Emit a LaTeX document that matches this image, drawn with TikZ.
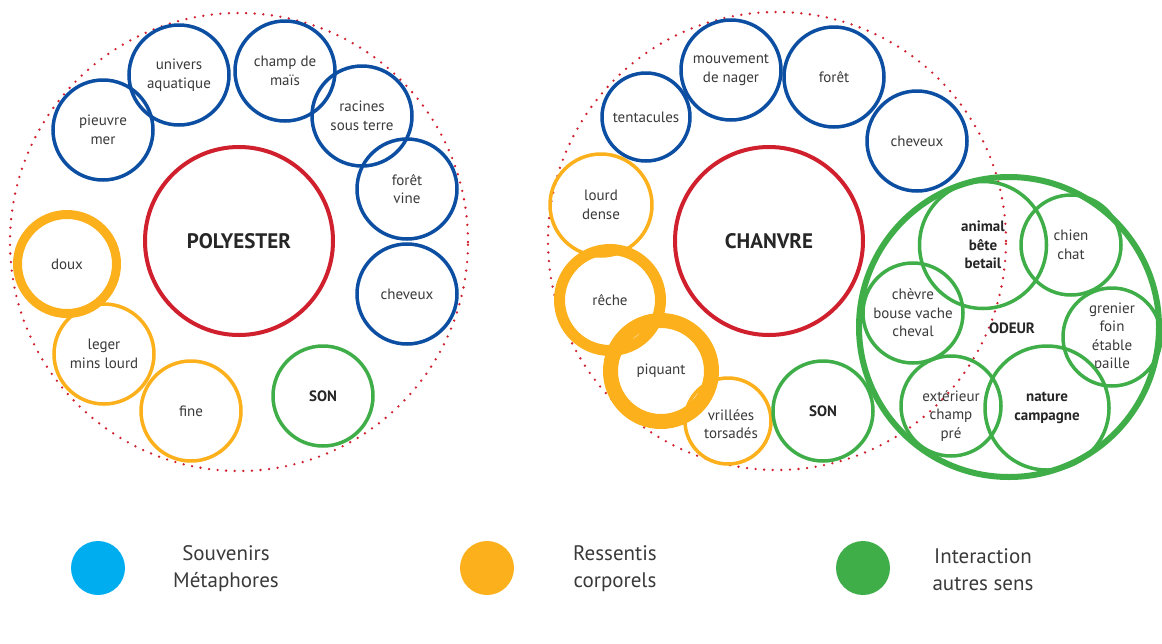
\documentclass[tikz,border=0pt]{standalone}
\usepackage{fontspec}
\setmainfont{PT Sans}
\definecolor{cblue}{HTML}{0B4EA2}
\definecolor{cred}{HTML}{D0202E}
\definecolor{corange}{HTML}{FBB01C}
\definecolor{cgreen}{HTML}{3FAE49}
\definecolor{ccyan}{HTML}{00AEEF}
\definecolor{ctext}{HTML}{3A3A3A}
\tikzset{
  bub/.style={circle, draw=#1, line width=3.5pt, minimum size=100pt, inner sep=0pt, align=center, text=ctext, font=\fontsize{15}{18.5}\selectfont},
  bub/.default=cblue,
  core/.style={circle, draw=cred, line width=4pt, minimum size=188pt, inner sep=0pt, text=black!85, font=\fontsize{21}{24}\selectfont\bfseries},
  ring/.style={circle, draw=cred, line width=2.6pt, line cap=round, dash pattern=on 0pt off 8.6pt, minimum size=458pt, inner sep=0pt},
  legdot/.style={circle, fill=#1, minimum size=54pt, inner sep=0pt},
  legtxt/.style={align=center, text=ctext, font=\fontsize{21}{27}\selectfont},
  txt/.style={align=center, text=ctext, font=\fontsize{15}{18.5}\selectfont},
  btxt/.style={align=center, text=black!85, font=\fontsize{15}{18.5}\selectfont\bfseries}
}
\begin{document}
\begin{tikzpicture}[x=1pt,y=-1pt]
\fill[white] (0,0) rectangle (1162,643);
\useasboundingbox (0,0) rectangle (1162,643);
% left cluster
\node[ring] (ringL) at (239,242) {};
\node[core] (poly) at (239,241) {POLYESTER};
\node[bub] (pieuvre) at (103,130) {pieuvre\\mer};
\node[bub] (univers) at (179,75) {univers\\aquatique};
\node[bub] (champ) at (285,71) {champ de\\maïs};
\node[bub] (racines) at (362,116) {racines\\sous terre};
\node[bub] (foretL) at (407,189) {forêt\\vine};
\node[bub] (cheveuxL) at (407,294) {cheveux};
\node[bub=cgreen, font=\fontsize{15}{18.5}\selectfont\bfseries, text=black!85] (sonL) at (323,396) {SON};
\node[bub=corange] (fine) at (191,411) {fine};
\node[bub=corange] (leger) at (104,354) {leger\\mins lourd};
\node[bub=corange, line width=9pt, minimum size=99pt] (doux) at (67,264) {doux};
% right cluster
\node[ring] (ringR) at (777,241) {};
\node[core] (chanvre) at (769,241) {CHANVRE};
\node[bub, minimum size=88pt] (tent) at (646,117) {tentacules};
\node[bub] (mouv) at (731,70) {mouvement\\de nager};
\node[bub] (foretR) at (834,77) {forêt};
\node[bub] (cheveuxR) at (917,141) {cheveux};
\node[bub=corange, minimum size=102pt] (lourd) at (601,205) {lourd\\dense};
\node[bub=corange, line width=11pt, minimum size=101pt] (reche) at (610,300) {rêche};
\node[bub=corange, line width=15pt, minimum size=101pt] (piquant) at (661,371) {piquant};
\node[bub=corange, minimum size=86pt] (vrill) at (728,421) {};
\node[txt] (vrillt) at (731,424) {vrillées\\torsadés};
\node[bub=cgreen, font=\fontsize{15}{18.5}\selectfont\bfseries, text=black!85] (sonR) at (823,411) {SON};
% odeur
\node[circle, draw=cgreen, line width=6pt, minimum size=300pt, inner sep=0pt] (odeur) at (1009,327) {};
\node[btxt] (odeurt) at (1012,328) {ODEUR};
\node[bub=cgreen, minimum size=127pt, font=\fontsize{15}{18.5}\selectfont\bfseries, text=black!85] (animal) at (983,245) {animal\\bête\\betail};
\node[bub=cgreen] (chien) at (1071,245) {chien\\chat};
\node[bub=cgreen] (chevre) at (913,313) {chèvre\\bouse vache\\cheval};
\node[bub=cgreen, minimum size=98pt] (grenier) at (1112,337) {grenier\\foin\\étable\\paille};
\node[bub=cgreen] (ext) at (951,406) {};
\node[txt] (extt) at (951,416) {extérieur\\champ\\pré};
\node[bub=cgreen, minimum size=124pt, font=\fontsize{15}{18.5}\selectfont\bfseries, text=black!85] (nature) at (1047,408) {nature\\campagne};
% legend
\node[legdot=ccyan] (l1) at (98,568) {};
\node[legtxt] (l1t) at (226,569) {Souvenirs\\Métaphores};
\node[legdot=corange] (l2) at (487,568) {};
\node[legtxt] (l2t) at (615,569) {Ressentis\\corporels};
\node[legdot=cgreen] (l3) at (863,568) {};
\node[legtxt] (l3t) at (983,570) {Interaction\\autres sens};
\end{tikzpicture}
\end{document}
